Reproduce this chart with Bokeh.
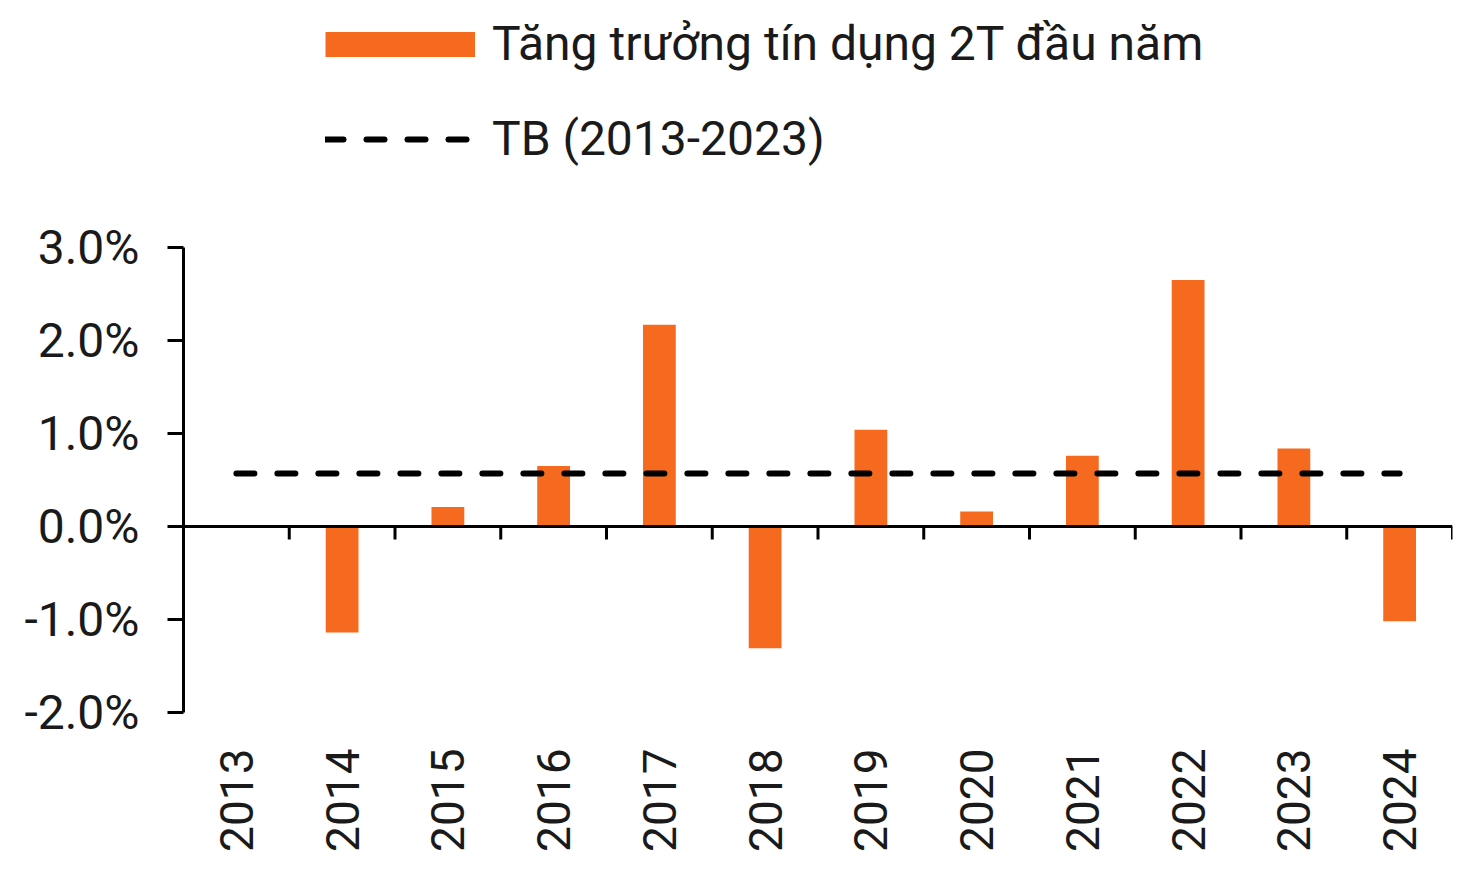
import math
from bokeh.plotting import figure
from bokeh.layouts import column
from bokeh.models import (Range1d, FixedTicker, LinearAxis, PrintfTickFormatter,
                          Legend, LegendItem, ColumnDataSource, Span)
from bokeh.embed import file_html
from bokeh.resources import INLINE

years = ["2013", "2014", "2015", "2016", "2017", "2018",
         "2019", "2020", "2021", "2022", "2023", "2024"]
credit_growth = [0.00, -1.14, 0.21, 0.65, 2.17, -1.31,
                 1.04, 0.16, 0.76, 2.65, 0.84, -1.02]
avg_2013_2023 = 0.57
y_ticks = [-2, -1, 0, 1, 2, 3]
series_label = "Tăng trưởng tín dụng 2T đầu năm"
avg_label = "TB (2013-2023)"

FONT = "Roboto"
ORANGE = "#F56A1F"
TEXT = "#1a1a1a"
BAR_W = 0.31
DASH = "18 23"
LINE_W = 6

n = len(years)
centers = [i + 0.5 for i in range(n)]
boundaries = [i for i in range(1, n + 1)]

W = 1468
LEG_H = 200
FRAME_H = 465
Y_MIN, Y_MAX = -2, 3
TICK_LEN = 13 / (FRAME_H / (Y_MAX - Y_MIN))  # 13 px expressed in data units

# ---------- legend strip (frame aligned with the chart frame) ----------
lg = figure(width=W, height=LEG_H, output_backend="svg", toolbar_location=None,
            x_range=Range1d(0, 1), y_range=Range1d(0, 1),
            min_border=0, x_axis_location=None, y_axis_location=None)
lg.outline_line_color = None
lg.xgrid.visible = False
lg.ygrid.visible = False
nan = float("nan")
legend_src = ColumnDataSource(dict(x=[nan], y=[nan]))
lg_bar = lg.line(x="x", y="y", source=legend_src, line_color=ORANGE,
                 line_width=25, line_cap="butt")
lg_line = lg.line(x="x", y="y", source=legend_src, line_color="black",
                  line_width=LINE_W, line_dash=DASH, line_cap="round")
legend = Legend(items=[LegendItem(label=series_label, renderers=[lg_bar]),
                       LegendItem(label=avg_label, renderers=[lg_line])],
                location=(142, 33), orientation="vertical",
                glyph_width=150, glyph_height=26, label_standoff=17,
                label_text_font=FONT, label_text_font_size="48px",
                label_text_color=TEXT,
                spacing=38, padding=0, margin=0,
                border_line_color=None, background_fill_alpha=0)
lg.add_layout(legend, "center")

# ---------- main chart ----------
p = figure(width=W, height=681, output_backend="svg", toolbar_location=None,
           x_range=Range1d(0, n), y_range=Range1d(Y_MIN, Y_MAX),
           min_border_left=183, min_border_right=16,
           min_border_top=47, min_border_bottom=169,
           x_axis_location=None, y_axis_location="left")
p.outline_line_color = None
p.xgrid.visible = False
p.ygrid.visible = False

src = ColumnDataSource(dict(x=centers, top=credit_growth))
p.vbar(x="x", top="top", bottom=0, width=BAR_W, source=src,
       fill_color=ORANGE, line_color=None)

p.add_layout(Span(location=0, dimension="width", line_color="black", line_width=3))
tick_src = ColumnDataSource(dict(x=boundaries, y0=[0] * n, y1=[-TICK_LEN] * n))
p.segment(x0="x", y0="y0", x1="x", y1="y1", source=tick_src,
          line_color="black", line_width=3)

avg_src = ColumnDataSource(dict(x=[centers[0], centers[-1]],
                                y=[avg_2013_2023, avg_2013_2023]))
p.line(x="x", y="y", source=avg_src, line_color="black",
       line_width=LINE_W, line_dash=DASH, line_cap="round")

ya = p.yaxis[0]
ya.ticker = FixedTicker(ticks=y_ticks)
ya.formatter = PrintfTickFormatter(format="%.1f%%")
ya.axis_line_width = 3
ya.major_tick_line_width = 3
ya.major_tick_out = 16
ya.major_tick_in = 0
ya.minor_tick_line_color = None
ya.major_label_standoff = 28
ya.major_label_text_font = FONT
ya.major_label_text_font_size = "48px"
ya.major_label_text_color = TEXT

label_axis = LinearAxis(ticker=FixedTicker(ticks=centers),
                        major_label_overrides={c: y for c, y in zip(centers, years)},
                        axis_line_color=None, major_tick_line_color=None,
                        minor_tick_line_color=None,
                        major_label_orientation=math.pi / 2,
                        major_label_standoff=30,
                        major_label_text_font=FONT,
                        major_label_text_font_size="46px",
                        major_label_text_color=TEXT)
p.add_layout(label_axis, "below")

layout = column(lg, p, spacing=0)
open("out.html", "w").write(file_html(layout, INLINE))
